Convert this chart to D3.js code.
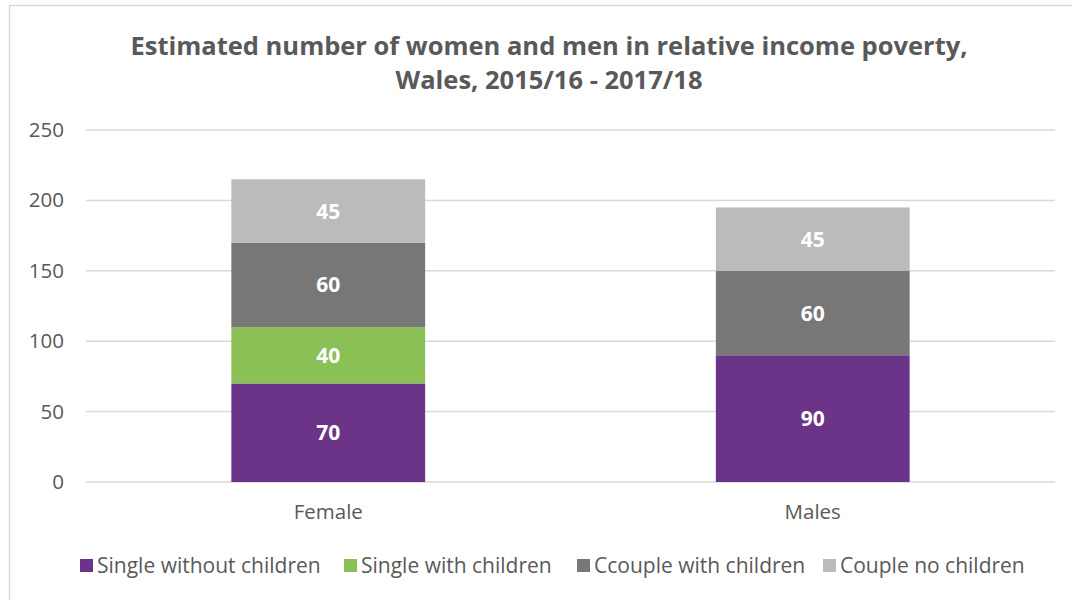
<!DOCTYPE html>
<html>
<head>
  <meta charset="utf-8">
  <script src="https://cdn.jsdelivr.net/npm/d3@7"></script>
  <style>
    body { margin: 0; background: #fff; }
    text { font-family: "Open Sans", sans-serif; }
  </style>
</head>
<body>
  <svg width="1072" height="600" id="mainsvg"></svg>
  <script>
    const categories = ['Female', 'Males'];
    const seriesNames = ['Single without children', 'Single with children', 'Ccouple with children', 'Couple no children'];
    const singleWithout = [70, 90];
    const singleWith = [40, 0];
    const coupleWith = [60, 60];
    const coupleNo = [45, 45];
    const yTicks = [0, 50, 100, 150, 200, 250];
    const colors = ['#6c3489', '#8bc057', '#777777', '#bbbbbb'];

    const svg = d3.select('#mainsvg');
    const margin = { top: 130, right: 17, bottom: 118, left: 86 };
    const innerWidth = 1072 - margin.left - margin.right;
    const innerHeight = 600 - margin.top - margin.bottom;

    // chart frame
    svg.append('path')
      .attr('d', 'M9.5,600 V5.5 H1072')
      .attr('fill', 'none').attr('stroke', '#d9d9d9').attr('stroke-width', 1.5);

    const titleLines = ['Estimated number of women and men in relative income poverty,', 'Wales, 2015/16 - 2017/18'];
    svg.append('g').selectAll('text').data(titleLines).join('text')
      .attr('x', 549).attr('y', (d, i) => 55 + i * 34).attr('text-anchor', 'middle')
      .attr('font-size', 25.5).attr('font-weight', 'bold').attr('fill', '#595959')
      .text(d => d);

    const g = svg.append('g').attr('transform', `translate(${margin.left},${margin.top})`);

    const data = categories.map((c, i) => ({
      category: c,
      [seriesNames[0]]: singleWithout[i],
      [seriesNames[1]]: singleWith[i],
      [seriesNames[2]]: coupleWith[i],
      [seriesNames[3]]: coupleNo[i]
    }));
    const stack = d3.stack().keys(seriesNames)(data);

    const x = d3.scaleBand().domain(categories).range([0, innerWidth])
      .paddingInner(0.6).paddingOuter(0.3);
    const y = d3.scaleLinear().domain([0, 250]).range([innerHeight, 0]);
    const color = d3.scaleOrdinal().domain(seriesNames).range(colors);

    // gridlines
    g.selectAll('.grid').data(yTicks).join('line').attr('class', 'grid')
      .attr('x1', 0).attr('x2', innerWidth)
      .attr('y1', d => y(d)).attr('y2', d => y(d))
      .attr('stroke', '#d9d9d9').attr('stroke-width', 1.5);

    const yAxis = g.append('g').call(d3.axisLeft(y).tickValues(yTicks).tickSize(0).tickPadding(22));
    yAxis.select('.domain').remove();
    yAxis.selectAll('text').attr('font-size', 20.5).attr('fill', '#595959')
      .style('font-family', '"Open Sans", sans-serif');

    const xAxis = g.append('g').attr('transform', `translate(0,${innerHeight})`)
      .call(d3.axisBottom(x).tickSize(0).tickPadding(22));
    xAxis.select('.domain').remove();
    xAxis.selectAll('text').attr('font-size', 20.5).attr('fill', '#595959')
      .style('font-family', '"Open Sans", sans-serif');

    const groups = g.selectAll('.series').data(stack).join('g').attr('class', 'series')
      .attr('fill', d => color(d.key));
    groups.selectAll('rect').data(d => d.filter(p => p[1] > p[0])).join('rect')
      .attr('x', d => x(d.data.category))
      .attr('width', x.bandwidth())
      .attr('y', d => y(d[1]))
      .attr('height', d => y(d[0]) - y(d[1]));

    groups.selectAll('.lbl').data(d => d.filter(p => p[1] > p[0])).join('text').attr('class', 'lbl')
      .attr('x', d => x(d.data.category) + x.bandwidth() / 2)
      .attr('y', d => y((d[0] + d[1]) / 2))
      .attr('dy', '0.36em').attr('text-anchor', 'middle')
      .attr('font-size', 21).attr('font-weight', 'bold').attr('fill', '#ffffff')
      .text(d => d[1] - d[0]);

    // legend
    const legendX = [80, 344, 577, 823];
    const legend = svg.append('g').selectAll('g').data(seriesNames).join('g')
      .attr('transform', (d, i) => `translate(${legendX[i]},565)`);
    legend.append('rect').attr('x', 0).attr('y', -6).attr('width', 13).attr('height', 13)
      .attr('fill', d => color(d));
    legend.append('text').attr('x', 17).attr('dy', '0.36em')
      .attr('font-size', 21).attr('fill', '#595959').text(d => d);
  </script>
</body>
</html>
